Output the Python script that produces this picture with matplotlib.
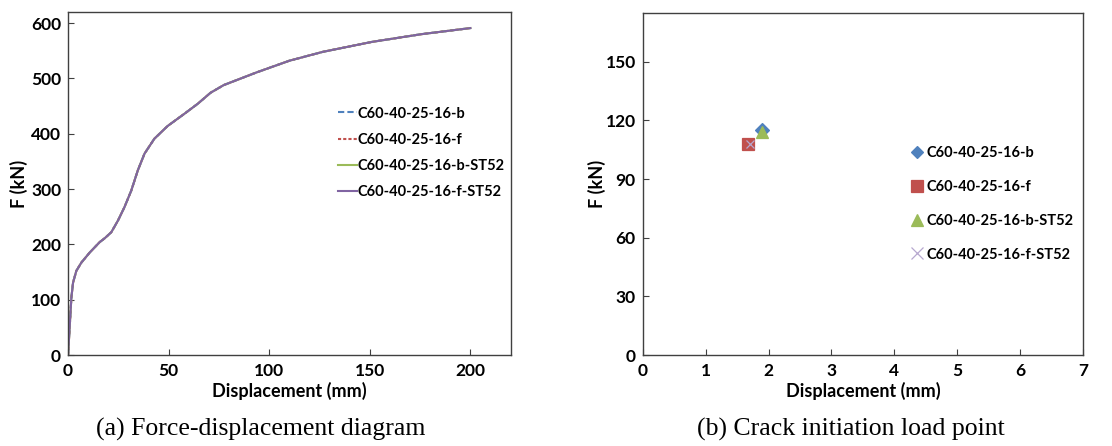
import matplotlib
matplotlib.use('Agg')
import matplotlib.pyplot as plt

# force-displacement curve (all four specimens overlap)
disp = [0, 0.8, 1.65, 2.5, 4.1, 6.6, 10.7, 15.7, 18.2, 21.5, 24.8, 28, 31.4,
        34.7, 38, 42.9, 49.5, 57.8, 64.4, 70.8, 77.4, 93.8, 110, 126.6, 151,
        175.7, 200]
force = [0, 50, 104, 131, 152, 167, 185, 204, 211, 222, 243, 267, 297, 334,
         364, 391, 414, 436, 454, 474, 488, 511, 532, 548, 566, 580, 591]
series = ['C60-40-25-16-b', 'C60-40-25-16-f', 'C60-40-25-16-b-ST52',
          'C60-40-25-16-f-ST52']

# crack initiation points
crack_disp = [1.9, 1.68, 1.9, 1.7]
crack_force = [115, 108, 114, 108]

colors = ['#4F81BD', '#C0504D', '#9BBB59', '#8064A2']
styles = [(0, (3, 1.5)), (0, (1.5, 1)), '-', '-']
markers = ['D', 's', '^', 'x']
marker_colors = ['#4F81BD', '#C0504D', '#9BBB59', '#B7A8CF']
marker_sizes = [7.5, 8.6, 9, 6]

tick_font = {'family': 'Lato', 'weight': 'bold', 'size': 12.5}
label_font = {'family': 'Lato', 'weight': 'bold', 'size': 13}
legend_font = {'family': 'Lato', 'weight': 'bold', 'size': 10.5}

fig = plt.figure(figsize=(11.12, 4.46), dpi=100)
ax1 = fig.add_axes([0.0612, 0.204, 0.398, 0.769])
ax2 = fig.add_axes([0.578, 0.204, 0.396, 0.767])

for name, c, ls in zip(series, colors, styles):
    ax1.plot(disp, force, color=c, linestyle=ls, lw=1.5, label=name)
ax1.set_xlim(0, 220)
ax1.set_ylim(0, 620)
ax1.set_xticks([0, 50, 100, 150, 200])
ax1.set_yticks(range(0, 601, 100))
ax1.legend(loc='upper left', bbox_to_anchor=(0.6095, 0.7245), frameon=False,
           borderpad=0, borderaxespad=0, handlelength=1.3,
           handletextpad=0.05, labelspacing=0.83, prop=legend_font)

for name, x, y, m, c, s in zip(series, crack_disp, crack_force, markers,
                               marker_colors, marker_sizes):
    ax2.plot(x, y, linestyle='none', marker=m, color=c, ms=s, mec=c,
             mew=0.9, label=name)
ax2.set_xlim(0, 7)
ax2.set_ylim(0, 175)
ax2.set_yticks(range(0, 151, 30))
leg2 = ax2.legend(loc='upper left', bbox_to_anchor=(0.607, 0.6096),
                  frameon=False, borderpad=0, borderaxespad=0,
                  handlelength=1.0, handletextpad=0.1, labelspacing=1.35,
                  prop=legend_font)
leg2.legend_handles[0].set_markersize(6.5)
leg2.legend_handles[3].set_markersize(9)

for ax in (ax1, ax2):
    for sp in ax.spines.values():
        sp.set_color('#404040')
        sp.set_linewidth(1)
    ax.tick_params(axis='both', direction='in', length=4.5, color='#404040')
    ax.tick_params(axis='x', pad=6)
    ax.tick_params(axis='y', pad=5)
    for lab in ax.get_xticklabels() + ax.get_yticklabels():
        lab.set_fontproperties(tick_font)
    ax.set_xlabel('Displacement (mm)', fontdict=label_font, labelpad=2)

ax1.set_ylabel('F (kN)', fontdict=label_font, labelpad=2)
ax2.set_ylabel('F (kN)', fontdict=label_font, labelpad=0)

fig.text(261 / 1112, 0.0224, '(a) Force-displacement diagram',
         family='Liberation Serif', size=18.5, ha='center', va='baseline')
fig.text(851 / 1112, 0.0224, '(b) Crack initiation load point',
         family='Liberation Serif', size=18.5, ha='center', va='baseline')

fig.savefig('out.png', dpi=100)
